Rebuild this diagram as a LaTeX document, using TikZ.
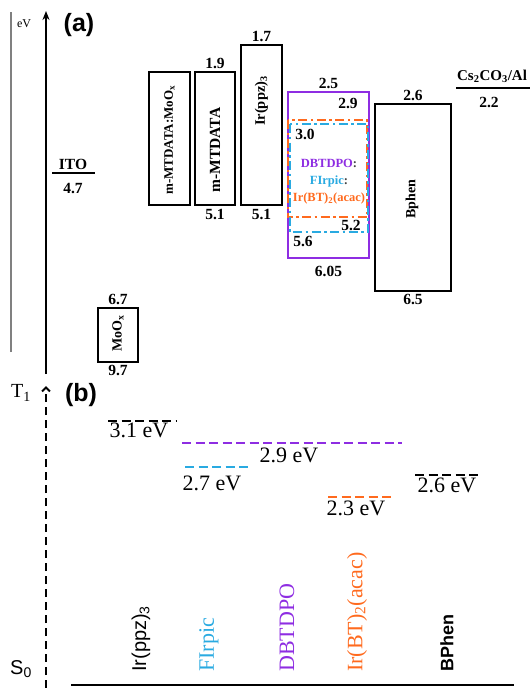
\documentclass[tikz,border=0pt]{standalone}
\usepackage{fontspec}
\setmainfont{Liberation Serif}
\setsansfont{Liberation Sans}
\usepackage{tikz}
\usetikzlibrary{positioning,arrows.meta}
\definecolor{dbtpurple}{HTML}{8E2DE2}
\definecolor{firblue}{HTML}{29AAE1}
\definecolor{irorange}{HTML}{FF6A1E}

\begin{document}
\begin{tikzpicture}[
  x=1pt, y=-1pt,
  box/.style={draw, line width=1.3pt, inner sep=0pt},
  boxtxt/.style={rotate=90, inner sep=0pt, font=\fontsize{13}{15}\selectfont\bfseries},
  num/.style={inner sep=1pt, font=\fontsize{15.5}{17}\selectfont\bfseries},
  panel/.style={inner sep=0pt, font=\fontsize{25}{28}\selectfont\sffamily\bfseries},
  ev/.style={inner sep=0pt, font=\fontsize{22}{24}\selectfont},
  mol/.style={rotate=90, anchor=west, inner sep=0pt, font=\fontsize{22}{24}\selectfont},
  elec/.style={line width=1.5pt},
  trip/.style={line width=2.5pt, dash pattern=on 9pt off 4.5pt},
  dashdot/.style={line width=2pt, dash pattern=on 9pt off 3.5pt on 2.5pt off 3.5pt}
]
\useasboundingbox (0,0) rectangle (532,688);

% (a) energy levels
\coordinate (grtop) at (11,12);
\coordinate (grbot) at (11,352);
\draw[gray, line width=1.5pt] (grbot) -- (grtop);
\coordinate (axbot) at (46,374);
\coordinate (axtop) at (46,11);
\draw[line width=1.8pt, -{Stealth[length=9pt,width=7pt]}] (axbot) -- (axtop);
\node[inner sep=0pt, font=\fontsize{12}{14}\selectfont] (evunit) at (24,24) {eV};
\node[panel] (pa) at (79,25) {(a)};

\coordinate (itol) at (52,173);
\coordinate (itor) at (95,173);
\draw[elec] (itol) -- (itor);
\node[num] (ito) at (73,164) {ITO};
\node[num] (itov) at (73,189) {4.7};

\node[box, minimum width=40pt, minimum height=54pt] (moox) at (118,335) {};
\node[boxtxt, font=\fontsize{14}{16}\selectfont\bfseries] (mooxt) at (118,333) {MoO\textsubscript{x}};
\node[num, above=1pt of moox] (mooxh) {6.7};
\node[num, below=1pt of moox] (mooxl) {9.7};

\node[box, minimum width=41pt, minimum height=133pt] (mmo) at (169.5,138.5) {};
\node[boxtxt, font=\fontsize{13}{15}\selectfont\bfseries] (mmot) at (169.5,140) {m-MTDATA:MoO\textsubscript{x}};

\node[box, minimum width=40pt, minimum height=133pt] (mtd) at (215,138.5) {};
\node[boxtxt, font=\fontsize{15.5}{17}\selectfont\bfseries] (mtdt) at (215,150) {m-MTDATA};
\node[num, above=1pt of mtd] (mtdh) {1.9};
\node[num, below=2pt of mtd] (mtdl) {5.1};

\node[box, minimum width=41pt, minimum height=160pt] (irp) at (261.5,125) {};
\node[boxtxt, font=\fontsize{14.5}{16}\selectfont\bfseries] (irpt) at (261.5,101) {Ir(ppz)\textsubscript{3}};
\node[num, above=1pt of irp] (irph) {1.7};
\node[num, below=2pt of irp] (irpl) {5.1};

\node[box, draw=dbtpurple, minimum width=81pt, minimum height=166pt] (dbt) at (328.5,175) {};
\coordinate (orna) at (288,120);
\coordinate (ornb) at (367,217);
\coordinate (blua) at (290,124);
\coordinate (blub) at (368,232);
\draw[dashdot, irorange] (orna) rectangle (ornb);
\draw[dashdot, firblue] (blua) rectangle (blub);
\node[num, above=1pt of dbt] (dbth) {2.5};
\node[num, below=6pt of dbt] (dbtl) {6.05};
\node[num] (dbt29) at (348,103) {2.9};
\node[num] (fir30) at (305,134) {3.0};
\node[num] (ir52) at (351,225) {5.2};
\node[num] (fir56) at (303,241) {5.6};
\node[align=center, inner sep=0pt, font=\fontsize{12.5}{17}\selectfont\bfseries] (eml) at (329,182)
  {\textcolor{dbtpurple}{DBTDPO}\textcolor{darkgray}{:}\\
   \textcolor{firblue}{FIrpic}\textcolor{darkgray}{:}\\
   \textcolor{irorange}{Ir(BT)\textsubscript{2}(acac)}};

\node[box, minimum width=76pt, minimum height=187pt] (bph) at (413,197.5) {};
\node[boxtxt, font=\fontsize{14}{16}\selectfont\bfseries] (bpht) at (412,199) {Bphen};
\node[num, above=1pt of bph] (bphh) {2.6};
\node[num, below=1pt of bph] (bphl) {6.5};

\coordinate (catl) at (456,88);
\coordinate (catr) at (530,88);
\draw[elec] (catl) -- (catr);
\node[num, font=\fontsize{15}{17}\selectfont\bfseries] (cat) at (492,76) {Cs\textsubscript{2}CO\textsubscript{3}/Al};
\node[num] (catv) at (489,102) {2.2};

% (b) triplet levels
\node[inner sep=0pt, font=\fontsize{20}{22}\selectfont] (tone) at (21,393) {T\textsubscript{1}};
\node[panel] (pb) at (81,395) {(b)};
\node[inner sep=0pt, font=\fontsize{20}{22}\selectfont\sffamily] (szero) at (21,669) {S\textsubscript{0}};
\coordinate (dsbot) at (46,688);
\coordinate (dstop) at (46,386);
\draw[line width=2pt, dash pattern=on 8pt off 5pt, -{Straight Barb[length=4pt,width=8pt]}] (dsbot) -- (dstop);
\coordinate (basel) at (71,685);
\coordinate (baser) at (514,685);
\draw[line width=1.5pt] (basel) -- (baser);

\node[ev] (e31) at (139,430) {3.1 eV};
\node[ev] (e29) at (289,455) {2.9 eV};
\node[ev] (e27) at (212,483) {2.7 eV};
\node[ev] (e23) at (356,508) {2.3 eV};
\node[ev] (e26) at (447,485) {2.6 eV};
\coordinate (l31a) at (108,421);
\coordinate (l31b) at (176,421);
\coordinate (l29a) at (182,443);
\coordinate (l29b) at (402,443);
\coordinate (l27a) at (185,467);
\coordinate (l27b) at (250,467);
\coordinate (l23a) at (328,497);
\coordinate (l23b) at (394,497);
\coordinate (l26a) at (415,475);
\coordinate (l26b) at (481,475);
\draw[trip] (l31a) -- (l31b);
\draw[trip, dbtpurple] (l29a) -- (l29b);
\draw[trip, firblue] (l27a) -- (l27b);
\draw[trip, irorange] (l23a) -- (l23b);
\draw[trip] (l26a) -- (l26b);

\node[mol, font=\fontsize{20}{22}\selectfont\sffamily] (mirp) at (141,672) {Ir(ppz)\textsubscript{3}};
\node[mol, text=firblue] (mfir) at (209,672) {FIrpic};
\node[mol, text=dbtpurple] (mdbt) at (287,672) {DBTDPO};
\node[mol, text=irorange] (mirb) at (357,672) {Ir(BT)\textsubscript{2}(acac)};
\node[mol, font=\fontsize{18}{20}\selectfont\sffamily\bfseries] (mbph) at (447,672) {BPhen};
\end{tikzpicture}
\end{document}
